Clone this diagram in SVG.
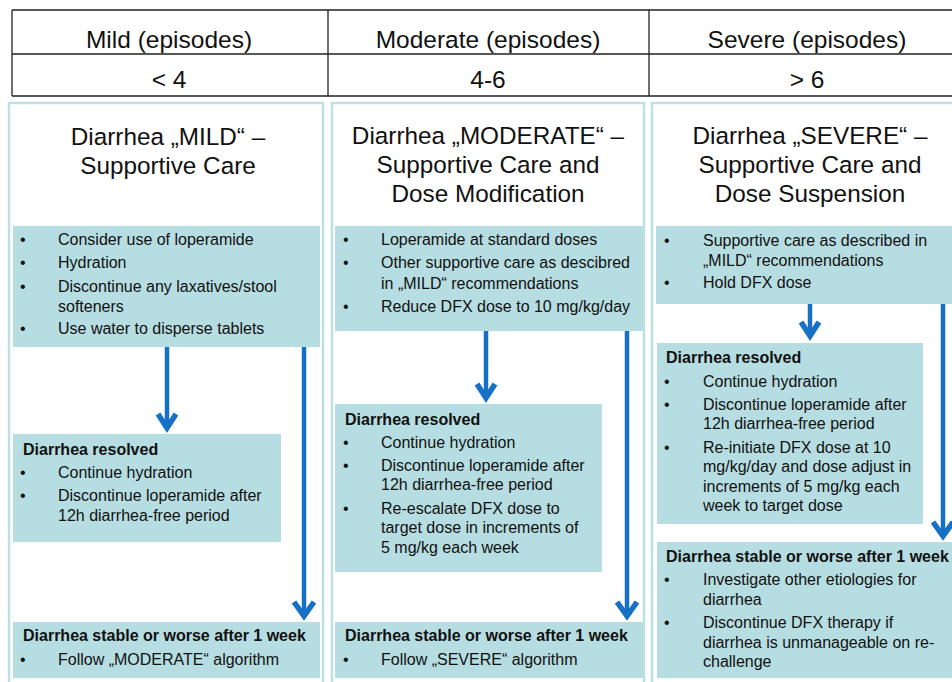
<svg xmlns="http://www.w3.org/2000/svg" width="952" height="682" viewBox="0 0 952 682">
<style>
text{font-family:"Liberation Sans",Arial,sans-serif;fill:#111}
.hd{font-size:24.5px;text-anchor:middle}
.ti{font-size:24.3px;text-anchor:middle}
.b{font-size:16px}
.bb{font-size:16px;font-weight:bold}
.panel{fill:#fff;stroke:#bfe0e3;stroke-width:2.5}
.box{fill:#b6dde1}
.tl{stroke:#222;stroke-width:1.3;fill:none}
.ar{stroke:#1570c6;stroke-width:4.5;fill:none;stroke-linecap:butt;stroke-linejoin:miter}
.ah{stroke:#1570c6;stroke-width:5.5;fill:none;stroke-linejoin:miter;stroke-miterlimit:10}
</style>
<rect width="952" height="682" fill="#fff"/>
<g id="table">
<path class="tl" d="M12,10 H952 M12,54 H952 M12,96 H952 M12,10 V96 M328,10 V96 M649,10 V96"/>
<text class="hd" x="169" y="48">Mild (episodes)</text>
<text class="hd" x="488" y="48">Moderate (episodes)</text>
<text class="hd" x="807" y="48">Severe (episodes)</text>
<text class="hd" x="169" y="88">&lt; 4</text>
<text class="hd" x="488" y="88">4-6</text>
<text class="hd" x="807" y="88">&gt; 6</text>
</g>
<g id="panel-mild">
<rect class="panel" x="9" y="103" width="314" height="590"/>
<text class="ti" x="168" y="145">Diarrhea „MILD“ –</text>
<text class="ti" x="168" y="174">Supportive Care</text>
</g>
<g id="panel-moderate">
<rect class="panel" x="332" y="103" width="312" height="590"/>
<text class="ti" x="488" y="144">Diarrhea „MODERATE“ –</text>
<text class="ti" x="488" y="173">Supportive Care and</text>
<text class="ti" x="488" y="202">Dose Modification</text>
</g>
<g id="panel-severe">
<rect class="panel" x="652" y="103" width="320" height="590"/>
<text class="ti" x="810" y="144">Diarrhea „SEVERE“ –</text>
<text class="ti" x="810" y="173">Supportive Care and</text>
<text class="ti" x="810" y="202">Dose Suspension</text>
</g>
<g id="mild-care">
<rect class="box" x="13" y="226" width="307" height="121"/>
<text class="b" x="20" y="245">•</text><text class="b" x="58" y="245">Consider use of loperamide</text>
<text class="b" x="20" y="268">•</text><text class="b" x="58" y="268">Hydration</text>
<text class="b" x="20" y="292">•</text><text class="b" x="58" y="292">Discontinue any laxatives/stool</text>
<text class="b" x="58" y="312">softeners</text>
<text class="b" x="20" y="334">•</text><text class="b" x="58" y="334">Use water to disperse tablets</text>
</g>
<g id="mild-resolved">
<rect class="box" x="13" y="434" width="268" height="108"/>
<text class="bb" x="23" y="455">Diarrhea resolved</text>
<text class="b" x="20" y="478">•</text><text class="b" x="58" y="478">Continue hydration</text>
<text class="b" x="20" y="501">•</text><text class="b" x="58" y="501">Discontinue loperamide after</text>
<text class="b" x="58" y="521">12h diarrhea-free period</text>
</g>
<g id="mild-worse">
<rect class="box" x="13" y="622" width="307" height="56"/>
<text class="bb" x="23" y="641">Diarrhea stable or worse after 1 week</text>
<text class="b" x="20" y="665">•</text><text class="b" x="58" y="665">Follow „MODERATE“ algorithm</text>
</g>
<g id="moderate-care">
<rect class="box" x="335" y="226" width="308" height="105"/>
<text class="b" x="343" y="245">•</text><text class="b" x="381" y="245">Loperamide at standard doses</text>
<text class="b" x="343" y="268">•</text><text class="b" x="381" y="268">Other supportive care as descibred</text>
<text class="b" x="381" y="289">in „MILD“ recommendations</text>
<text class="b" x="343" y="312">•</text><text class="b" x="381" y="312">Reduce DFX dose to 10 mg/kg/day</text>
</g>
<g id="moderate-resolved">
<rect class="box" x="335" y="404" width="267" height="168"/>
<text class="bb" x="345" y="425">Diarrhea resolved</text>
<text class="b" x="343" y="448">•</text><text class="b" x="381" y="448">Continue hydration</text>
<text class="b" x="343" y="471">•</text><text class="b" x="381" y="471">Discontinue loperamide after</text>
<text class="b" x="381" y="490">12h diarrhea-free period</text>
<text class="b" x="343" y="514">•</text><text class="b" x="381" y="514">Re-escalate DFX dose to</text>
<text class="b" x="381" y="533">target dose in increments of</text>
<text class="b" x="381" y="553">5 mg/kg each week</text>
</g>
<g id="moderate-worse">
<rect class="box" x="335" y="622" width="308" height="56"/>
<text class="bb" x="345" y="641">Diarrhea stable or worse after 1 week</text>
<text class="b" x="343" y="665">•</text><text class="b" x="381" y="665">Follow „SEVERE“ algorithm</text>
</g>
<g id="severe-care">
<rect class="box" x="656" y="226" width="296" height="78"/>
<text class="b" x="664" y="246">•</text><text class="b" x="703" y="246">Supportive care as described in</text>
<text class="b" x="703" y="266">„MILD“ recommendations</text>
<text class="b" x="664" y="288">•</text><text class="b" x="703" y="288">Hold DFX dose</text>
</g>
<g id="severe-resolved">
<rect class="box" x="657" y="343" width="266" height="181"/>
<text class="bb" x="666" y="363">Diarrhea resolved</text>
<text class="b" x="664" y="387">•</text><text class="b" x="703" y="387">Continue hydration</text>
<text class="b" x="664" y="410">•</text><text class="b" x="703" y="410">Discontinue loperamide after</text>
<text class="b" x="703" y="429">12h diarrhea-free period</text>
<text class="b" x="664" y="453">•</text><text class="b" x="703" y="453">Re-initiate DFX dose at 10</text>
<text class="b" x="703" y="472">mg/kg/day and dose adjust in</text>
<text class="b" x="703" y="492">increments of 5 mg/kg each</text>
<text class="b" x="703" y="511">week to target dose</text>
</g>
<g id="severe-worse">
<rect class="box" x="657" y="542" width="295" height="136"/>
<text class="bb" x="666" y="562">Diarrhea stable or worse after 1 week</text>
<text class="b" x="664" y="585">•</text><text class="b" x="703" y="585">Investigate other etiologies for</text>
<text class="b" x="703" y="605">diarrhea</text>
<text class="b" x="664" y="628">•</text><text class="b" x="703" y="628">Discontinue DFX therapy if</text>
<text class="b" x="703" y="648">diarrhea is unmanageable on re-</text>
<text class="b" x="703" y="667">challenge</text>
</g>
<g id="connectors">
<path class="ar" d="M167,347 V428"/><path class="ah" d="M158,414 L167,428 L176,414"/>
<path class="ar" d="M304,347 V616"/><path class="ah" d="M294,602 L304,616 L314,602"/>
<path class="ar" d="M486,331 V398"/><path class="ah" d="M477,384 L486,398 L495,384"/>
<path class="ar" d="M627,331 V616"/><path class="ah" d="M617,602 L627,616 L637,602"/>
<path class="ar" d="M810,304 V336"/><path class="ah" d="M801,322 L810,336 L819,322"/>
<path class="ar" d="M943,304 V536"/><path class="ah" d="M933,522 L943,536 L953,522"/>
</g>
</svg>
